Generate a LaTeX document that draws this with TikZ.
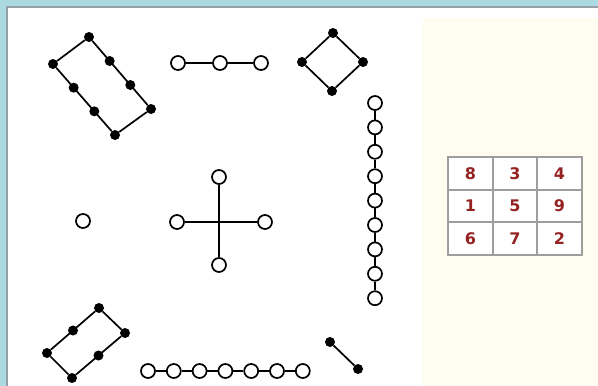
\documentclass[tikz,border=0pt]{standalone}
\usepackage{fontspec}
\newfontfamily\cellfont{DejaVu Sans}
\definecolor{frameblue}{RGB}{172,218,226}
\definecolor{framegray}{RGB}{150,160,165}
\definecolor{creampad}{RGB}{255,253,240}
\definecolor{cellgray}{RGB}{158,158,158}
\definecolor{numred}{RGB}{150,35,35}
\usepackage{tikz}
\usetikzlibrary{calc}

\begin{document}
\begin{tikzpicture}[x=1pt, y=-1pt,
  opendot/.style={circle, draw, line width=1.7pt, fill=white, minimum size=14pt, inner sep=0pt},
  solidot/.style={circle, fill=black, minimum size=10pt, inner sep=0pt},
  link/.style={line width=1.7pt},
  cellnum/.style={font=\cellfont\bfseries\fontsize{16}{16}\selectfont, text=numred}]
  \useasboundingbox (0,0) rectangle (598,386);

  % Frame and paper
  \fill[frameblue] (0,0) rectangle (598,386);
  \fill[white] (7,7) rectangle (598,386);
  \fill[creampad] (423,18) rectangle (598,386);
  \draw[framegray, line width=1.2pt] (7,386) -- (7,7) -- (598,7);

  % Eight: tilted rectangle of black dots
  \node[solidot] (e1) at (89,37) {};
  \node[solidot] (e2) at (151,109) {};
  \node[solidot] (e3) at (115,135) {};
  \node[solidot] (e4) at (53,64) {};
  \draw[link] (e1) -- (e2) -- (e3) -- (e4) -- (e1);
  \node[solidot] (e5) at ($(e1)!1/3!(e2)$) {};
  \node[solidot] (e6) at ($(e1)!2/3!(e2)$) {};
  \node[solidot] (e7) at ($(e4)!1/3!(e3)$) {};
  \node[solidot] (e8) at ($(e4)!2/3!(e3)$) {};

  % Three: open dots in a row
  \node[opendot] (t1) at (178,63) {};
  \node[opendot] (t2) at (220,63) {};
  \node[opendot] (t3) at (261,63) {};
  \draw[link] (t1) -- (t2) (t2) -- (t3);

  % Four: black diamond
  \node[solidot] (f1) at (333,33) {};
  \node[solidot] (f2) at (363,62) {};
  \node[solidot] (f3) at (332,91) {};
  \node[solidot] (f4) at (302,62) {};
  \draw[link] (f1) -- (f2) -- (f3) -- (f4) -- (f1);

  % Nine: vertical chain
  \foreach \i in {1,...,9}
    \node[opendot] (n\i) at (375,{103+(\i-1)*24.4}) {};
  \foreach \i [evaluate=\i as \j using int(\i+1)] in {1,...,8}
    \draw[link] (n\i) -- (n\j);

  % One
  \node[opendot] (o1) at (83,221) {};

  % Five: cross
  \node[opendot] (c1) at (219,177) {};
  \node[opendot] (c2) at (265,222) {};
  \node[opendot] (c3) at (219,265) {};
  \node[opendot] (c4) at (177,222) {};
  \draw[link] (c1) -- (c3) (c4) -- (c2);

  % Six: small tilted rectangle
  \node[solidot] (s1) at (99,308) {};
  \node[solidot] (s2) at (125,333) {};
  \node[solidot] (s3) at (72,378) {};
  \node[solidot] (s4) at (47,353) {};
  \draw[link] (s1) -- (s2) -- (s3) -- (s4) -- (s1);
  \node[solidot] (s5) at ($(s1)!0.5!(s4)$) {};
  \node[solidot] (s6) at ($(s2)!0.5!(s3)$) {};

  % Seven: horizontal chain
  \foreach \i in {1,...,7}
    \node[opendot] (h\i) at ({148+(\i-1)*25.8},371) {};
  \foreach \i [evaluate=\i as \j using int(\i+1)] in {1,...,6}
    \draw[link] (h\i) -- (h\j);

  % Two
  \node[solidot] (w1) at (330,342) {};
  \node[solidot] (w2) at (358,369) {};
  \draw[link] (w1) -- (w2);

  % Magic square
  \fill[white] (448,157) rectangle (582,255);
  \draw[cellgray, line width=2pt] (448,157) rectangle (582,255);
  \draw[cellgray, line width=1.8pt] (493,157) -- (493,255) (537,157) -- (537,255)
    (448,190) -- (582,190) (448,222) -- (582,222);
  \node[cellnum] (q1) at (470.5,174) {8};
  \node[cellnum] (q2) at (515,174) {3};
  \node[cellnum] (q3) at (559.5,174) {4};
  \node[cellnum] (q4) at (470.5,206) {1};
  \node[cellnum] (q5) at (515,206) {5};
  \node[cellnum] (q6) at (559.5,206) {9};
  \node[cellnum] (q7) at (470.5,238.5) {6};
  \node[cellnum] (q8) at (515,238.5) {7};
  \node[cellnum] (q9) at (559.5,238.5) {2};
\end{tikzpicture}
\end{document}
